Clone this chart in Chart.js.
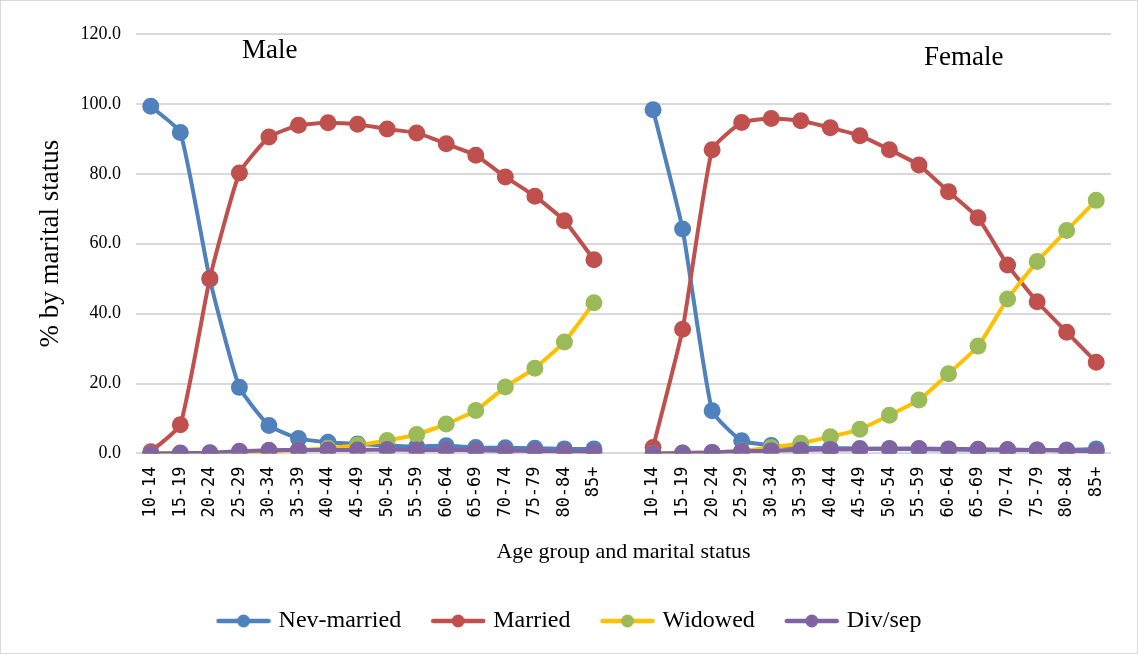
<!DOCTYPE html>
<html><head><meta charset="utf-8">
<script src="https://cdn.jsdelivr.net/npm/chart.js@4"></script>
<style>
html,body{margin:0;padding:0;background:#fff;}
#wrap{position:relative;width:1138px;height:654px;box-sizing:border-box;border:1px solid #d9d9d9;}
canvas{display:block;}
</style></head>
<body><div id="wrap"><canvas id="c" width="1136" height="652"></canvas></div>
<script>
const ageGroups = ["10-14","15-19","20-24","25-29","30-34","35-39","40-44","45-49","50-54","55-59","60-64","65-69","70-74","75-79","80-84","85+"];
const maleNevMarried = [99.3,91.8,49.8,18.9,8.0,4.3,3.2,2.7,2.3,2.0,2.2,1.7,1.6,1.5,1.3,1.3];
const maleMarried    = [0.5,8.2,50.1,80.2,90.5,93.9,94.6,94.2,92.8,91.7,88.6,85.3,79.1,73.6,66.6,55.4];
const maleWidowed    = [0.0,0.0,0.1,0.3,0.5,1.0,1.5,2.4,3.7,5.4,8.4,12.3,19.0,24.4,31.9,43.1];
const maleDivSep     = [0.0,0.1,0.2,0.6,0.9,1.0,1.0,1.0,1.1,1.0,1.0,0.9,0.8,0.7,0.6,0.5];
const femaleNevMarried = [98.3,64.2,12.2,3.6,2.3,1.7,1.5,1.4,1.3,1.2,1.1,1.0,1.0,1.0,1.0,1.3];
const femaleMarried    = [1.7,35.5,86.9,94.7,95.8,95.2,93.2,90.9,86.9,82.5,74.9,67.4,53.9,43.4,34.7,26.1];
const femaleWidowed    = [0.0,0.1,0.3,0.7,1.7,2.9,4.8,6.9,10.9,15.3,22.8,30.7,44.2,54.9,63.8,72.4];
const femaleDivSep     = [0.0,0.1,0.3,0.6,0.8,1.0,1.1,1.2,1.4,1.4,1.3,1.2,1.1,1.0,0.8,0.6];
const seriesNames = ["Nev-married","Married","Widowed","Div/sep"];
const yTicks = [0,20,40,60,80,100,120];

const labels = [...ageGroups, "", ...ageGroups];
const join = (m,f) => [...m, null, ...f];

const lineCols = ["#4F81BD","#C0504D","#FFC000","#8064A2"];
const ptCols   = ["#4F81BD","#C0504D","#9BBB59","#8064A2"];
const dataSets = [join(maleNevMarried,femaleNevMarried), join(maleMarried,femaleMarried), join(maleWidowed,femaleWidowed), join(maleDivSep,femaleDivSep)];

function legendIcon(lc, pc){
  const cv = document.createElement('canvas');
  cv.width = 56; cv.height = 16;
  const g = cv.getContext('2d');
  g.strokeStyle = lc; g.lineWidth = 4.5; g.lineCap='round';
  g.beginPath(); g.moveTo(3,8); g.lineTo(53,8); g.stroke();
  g.fillStyle = pc; g.beginPath(); g.arc(28,8,6.5,0,Math.PI*2); g.fill();
  return cv;
}

const annot = {
  id:'annot',
  afterDraw(chart){
    const c = chart.ctx;
    c.save();
    c.fillStyle = '#000';
    c.font = '27px "Liberation Serif", serif';
    c.textBaseline = 'middle';
    c.fillText('Male', 241, 50);
    c.fillText('Female', 923, 57);
    c.restore();
  }
};

new Chart(document.getElementById('c'), {
  type:'line',
  data:{
    labels,
    datasets: seriesNames.map((n,i)=>({
      label:n, data:dataSets[i],
      borderColor:lineCols[i], backgroundColor:ptCols[i],
      pointBackgroundColor:ptCols[i], pointBorderColor:ptCols[i],
      pointRadius:6.5, pointHoverRadius:6.5, borderWidth:4, tension:0.15,
      spanGaps:false, pointStyle:'circle'
    })).reverse()
  },
  options:{
    responsive:false, animation:false,
    layout:{padding:{left:30,right:26,top:33,bottom:10}},
    plugins:{
      legend:{
        position:'bottom', reverse:true,
        labels:{
          usePointStyle:true, pointStyleWidth:46, padding:34,
          font:{family:'"Liberation Serif", serif', size:24},
          color:'#000',
          generateLabels(chart){
            const ds = chart.data.datasets;
            return ds.map((d,i)=>{
              const k = seriesNames.indexOf(d.label);
              return {text:d.label, pointStyle:legendIcon(lineCols[k],ptCols[k]), fillStyle:lineCols[k], strokeStyle:lineCols[k], lineWidth:0, datasetIndex:i, hidden:false};
            });
          }
        }
      },
      tooltip:{enabled:false}
    },
    scales:{
      x:{
        offset:true,
        grid:{display:false},
        border:{display:false},
        ticks:{autoSkip:false, maxRotation:90, minRotation:90, color:'#000',
          font:{family:'"DejaVu Sans Mono", monospace', size:17}, padding:5},
        title:{display:true, text:'Age group and marital status', color:'#000',
          font:{family:'"Liberation Serif", serif', size:22}, padding:{top:16,bottom:10}}
      },
      y:{
        min:0, max:120,
        afterBuildTicks(s){ s.ticks = yTicks.map(v=>({value:v})); },
        grid:{color:'#d9d9d9', lineWidth:2, drawTicks:false},
        border:{display:false},
        ticks:{color:'#000', padding:15, font:{family:'"Liberation Serif", serif', size:18},
          callback:v=>Number(v).toFixed(1)},
        title:{display:true, text:'% by marital status', color:'#000',
          font:{family:'"Liberation Serif", serif', size:27}, padding:{bottom:8}},
        afterFit(s){ s.width = 105; }
      }
    }
  },
  plugins:[annot]
});
</script></body></html>
